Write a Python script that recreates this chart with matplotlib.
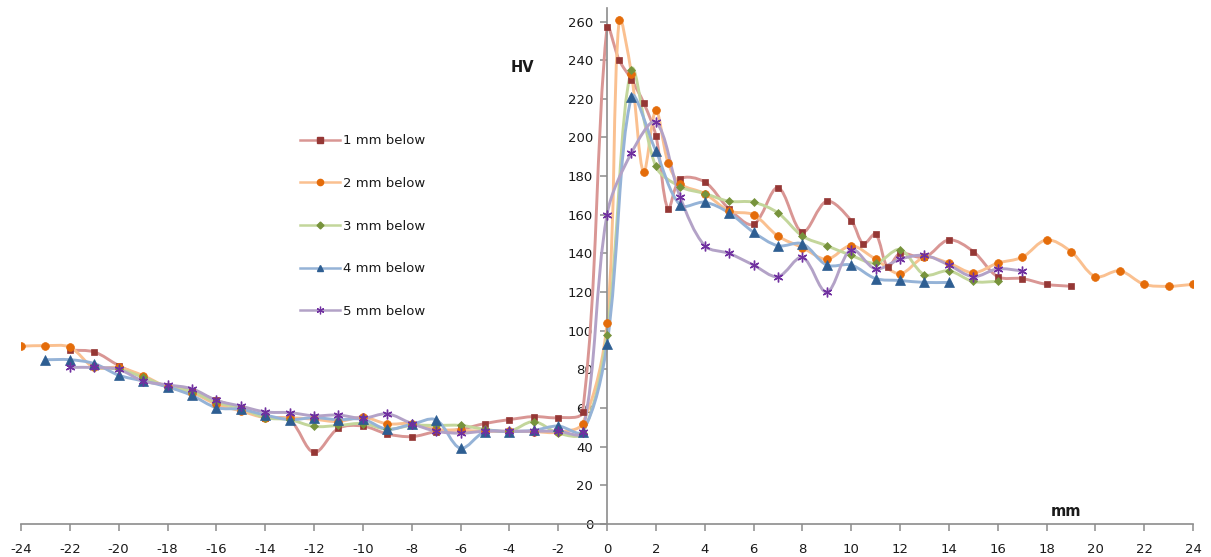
import numpy as np
import matplotlib
matplotlib.use("Agg")
import matplotlib.pyplot as plt
from matplotlib.path import Path
from matplotlib.patches import PathPatch
from matplotlib.lines import Line2D

# ---------------- data ----------------
x_1mm = [-22, -21, -20, -19, -18, -17, -16, -15, -14, -13, -12, -11, -10, -9, -8, -7, -6, -5, -4, -3, -2, -1,
         0, 0.5, 1, 1.5, 2, 2.5, 3, 4, 5, 6, 7, 8, 9, 10, 10.5, 11, 11.5, 12, 13, 14, 15, 16, 17, 18, 19]
y_1mm = [90, 89, 82, 76, 71, 69, 64, 60, 55, 54, 37, 49.5, 50.7, 46.6, 45.2, 47.8, 49, 52, 54, 55.6, 55, 58,
         257, 240, 230, 218, 201, 163, 178.5, 177, 163, 155, 174, 151, 167, 157, 145, 150, 133, 140, 138, 147, 141, 128, 127, 124, 123]

x_2mm = [-24, -23, -22, -21, -20, -19, -18, -17, -16, -15, -14, -13, -12, -11, -10, -9, -8, -7, -6, -5, -4, -3, -2, -1,
         0, 0.5, 1, 1.5, 2, 2.5, 3, 4, 5, 6, 7, 8, 9, 10, 11, 12, 13, 14, 15, 16, 17, 18, 19, 20, 21, 22, 23, 24]
y_2mm = [92, 92.3, 91.5, 81, 81, 76.8, 70.8, 68, 62, 58.5, 55, 55, 54.2, 53, 55.3, 51.8, 52, 49, 48.5, 48, 48, 47.8, 47.5, 52,
         104, 261, 233, 182, 214, 187, 176, 171, 162, 160, 149, 143, 137, 144, 137, 129.5, 138, 135, 130, 135, 138, 147, 141, 128, 131, 124, 123, 124]

x_3mm = [-21, -20, -19, -18, -17, -16, -15, -14, -13, -12, -11, -10, -9, -8, -7, -6, -5, -4, -3, -2, -1,
         0, 1, 2, 3, 4, 5, 6, 7, 8, 9, 10, 11, 12, 13, 14, 15, 16]
y_3mm = [81, 80, 76, 71, 68.5, 63, 60, 55, 54, 50.5, 51, 52, 49, 51, 51, 51, 49, 48, 53, 47, 47,
         98, 235, 185, 174.5, 171, 167, 166.5, 161, 149, 144, 139, 135, 142, 129, 131, 125.5, 125.5]

x_4mm = [-23, -22, -21, -20, -19, -18, -17, -16, -15, -14, -13, -12, -11, -10, -9, -8, -7, -6, -5, -4, -3, -2, -1,
         0, 1, 2, 3, 4, 5, 6, 7, 8, 9, 10, 11, 12, 13, 14]
y_4mm = [85, 85, 83, 77, 74, 71, 66.5, 60.2, 59.4, 56.4, 54, 55, 54, 54.2, 49, 51.6, 53.9, 39.2, 47.8, 47.8, 48.5, 50.7, 47.8,
         93, 221, 193, 165, 166.5, 161, 151, 144, 145, 134, 134, 127, 126, 125, 125]

x_5mm = [-22, -21, -20, -19, -18, -17, -16, -15, -14, -13, -12, -11, -10, -9, -8, -7, -6, -5, -4, -3, -2, -1,
         0, 1, 2, 3, 4, 5, 6, 7, 8, 9, 10, 11, 12, 13, 14, 15, 16, 17]
y_5mm = [81, 81, 80, 74, 72, 70, 64, 61, 58, 57.6, 56, 56.4, 54.7, 57, 52, 48, 47, 48, 48, 48, 48, 47.5,
         160, 192, 208, 169, 144, 140, 134, 128, 138, 120, 142, 132, 137, 139, 134, 128, 132, 131]

labels = ["1 mm below", "2 mm below", "3 mm below", "4 mm below", "5 mm below"]
x_ticks = list(range(-24, 25, 2))
y_ticks = list(range(0, 261, 20))

# ---------------- style ----------------
STAR = (6, 2, 0)
series = [
    (x_1mm, y_1mm, "#D99694", "#953735", "s", 5.0),
    (x_2mm, y_2mm, "#FAC090", "#E46C0A", "o", 5.6),
    (x_3mm, y_3mm, "#C3D69B", "#77933C", "D", 4.0),
    (x_4mm, y_4mm, "#95B3D7", "#2E5E92", "^", 6.5),
    (x_5mm, y_5mm, "#B3A2C7", "#7030A0", STAR, 7.0),
]

XLIM = (-24, 24)
YLIM = (0, 267)
AX_W_PX = 1193 - 21
AX_H_PX = 524 - 8
SX = AX_W_PX / (XLIM[1] - XLIM[0])
SY = AX_H_PX / (YLIM[1] - YLIM[0])


def smooth_path(xs, ys):
    """Excel-like smoothed line: cubic Bezier, tangent scaled by neighbouring segment lengths."""
    pts = np.column_stack([xs, ys]).astype(float)
    scale = np.array([SX, SY])
    n = len(pts)
    verts = [pts[0]]
    codes = [Path.MOVETO]

    def dist(a, b):
        return np.hypot(*((b - a) * scale))

    for i in range(n - 1):
        p0 = pts[i - 1] if i > 0 else pts[i]
        p1 = pts[i]
        p2 = pts[i + 1]
        p3 = pts[i + 2] if i + 2 < n else pts[i + 1]
        d01 = dist(p0, p1)
        d12 = dist(p1, p2)
        d23 = dist(p2, p3)
        f1 = d12 / (d01 + d12) if (d01 + d12) > 0 else 0.5
        f2 = d12 / (d12 + d23) if (d12 + d23) > 0 else 0.5
        c1 = p1 + (p2 - p0) * f1 / 3.0
        c2 = p2 - (p3 - p1) * f2 / 3.0
        verts += [c1, c2, p2]
        codes += [Path.CURVE4] * 3
    return Path(np.array(verts), codes)


fig = plt.figure(figsize=(12.11, 5.57), dpi=100)
ax = fig.add_axes([21 / 1211, 1 - 524 / 557, AX_W_PX / 1211, AX_H_PX / 557])
ax.set_xlim(*XLIM)
ax.set_ylim(*YLIM)

for xs, ys, lc, mc, mk, ms in series:
    patch = PathPatch(smooth_path(xs, ys), facecolor="none", edgecolor=lc, lw=2.1,
                      capstyle="round", joinstyle="round", zorder=2)
    ax.add_patch(patch)
    if mk == STAR:
        ax.plot(xs, ys, linestyle="none", marker=mk, markersize=ms, markeredgecolor=mc,
                markeredgewidth=1.0, zorder=3)
    else:
        ax.plot(xs, ys, linestyle="none", marker=mk, markersize=ms, markerfacecolor=mc,
                markeredgecolor=mc, markeredgewidth=0.5, zorder=3)

# axes styling
axis_col = "#8C8C8C"
for s in ["top", "right"]:
    ax.spines[s].set_visible(False)
ax.spines["left"].set_position(("data", 0))
ax.spines["bottom"].set_position(("data", 0))
for s in ["left", "bottom"]:
    ax.spines[s].set_color(axis_col)
    ax.spines[s].set_linewidth(1.2)

ax.set_xticks(x_ticks)
ax.set_xticklabels([str(v) for v in x_ticks])
ax.set_yticks(y_ticks)
ax.set_yticklabels([str(v) for v in y_ticks])
ax.tick_params(axis="x", direction="out", length=5, width=1.1, color=axis_col, pad=9,
               labelsize=9.5, labelcolor="#1A1A1A")
ax.tick_params(axis="y", direction="out", length=5, width=1.1, color=axis_col, pad=5,
               labelsize=9.5, labelcolor="#1A1A1A")

ax.text(-3.45, 236, "HV", fontsize=10.5, fontweight="bold", color="#1A1A1A", ha="center", va="center")
ax.text(18.8, 6.5, "mm", fontsize=10.5, fontweight="bold", color="#1A1A1A", ha="center", va="center")

# legend
handles = []
for (xs, ys, lc, mc, mk, ms) in series:
    if mk == STAR:
        h = Line2D([], [], color=lc, lw=1.8, marker=mk, markersize=5.5, markeredgecolor=mc,
                   markeredgewidth=0.9)
    else:
        h = Line2D([], [], color=lc, lw=1.8, marker=mk, markersize=4.5 if mk != "D" else 3.5,
                   markerfacecolor=mc, markeredgecolor=mc)
    handles.append(h)
leg = ax.legend(handles, labels, loc="upper left", bbox_to_anchor=(295 / 1211, 1 - 129 / 557),
                bbox_transform=fig.transFigure, frameon=False, fontsize=9.5, handlelength=3.0,
                handletextpad=0.25, labelspacing=2.25, borderaxespad=0)
for t in leg.get_texts():
    t.set_color("#1A1A1A")

fig.savefig("out.png", dpi=100, facecolor="white")
